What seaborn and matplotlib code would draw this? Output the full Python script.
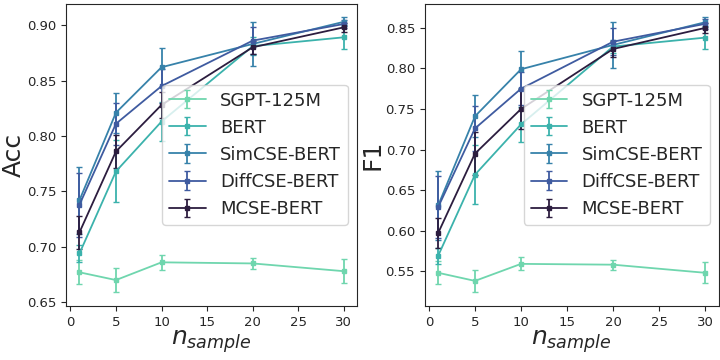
import matplotlib
matplotlib.use("Agg")
import numpy as np
import seaborn as sns
from matplotlib import pyplot as plt

sns.set_style("ticks")
plt.rcParams['font.family'] = ['DejaVu Sans']

n_sample = [1, 5, 10, 20, 30]
models = ['SGPT-125M', 'BERT', 'SimCSE-BERT', 'DiffCSE-BERT', 'MCSE-BERT']

acc_mean = {
    'SGPT-125M':    [0.677, 0.670, 0.686, 0.685, 0.678],
    'BERT':         [0.694, 0.768, 0.813, 0.881, 0.889],
    'SimCSE-BERT':  [0.742, 0.821, 0.862, 0.883, 0.903],
    'DiffCSE-BERT': [0.738, 0.811, 0.845, 0.886, 0.901],
    'MCSE-BERT':    [0.713, 0.786, 0.828, 0.880, 0.898],
}
acc_err = {
    'SGPT-125M':    [0.011, 0.011, 0.007, 0.005, 0.011],
    'BERT':         [0.008, 0.028, 0.018, 0.008, 0.011],
    'SimCSE-BERT':  [0.030, 0.018, 0.017, 0.020, 0.004],
    'DiffCSE-BERT': [0.029, 0.019, 0.015, 0.012, 0.004],
    'MCSE-BERT':    [0.015, 0.015, 0.012, 0.006, 0.004],
}
f1_mean = {
    'SGPT-125M':    [0.548, 0.538, 0.559, 0.558, 0.548],
    'BERT':         [0.569, 0.669, 0.731, 0.827, 0.838],
    'SimCSE-BERT':  [0.631, 0.741, 0.799, 0.829, 0.857],
    'DiffCSE-BERT': [0.629, 0.726, 0.775, 0.833, 0.855],
    'MCSE-BERT':    [0.597, 0.695, 0.750, 0.824, 0.850],
}
f1_err = {
    'SGPT-125M':    [0.014, 0.014, 0.008, 0.006, 0.013],
    'BERT':         [0.010, 0.036, 0.022, 0.008, 0.014],
    'SimCSE-BERT':  [0.043, 0.026, 0.023, 0.028, 0.006],
    'DiffCSE-BERT': [0.038, 0.028, 0.020, 0.017, 0.006],
    'MCSE-BERT':    [0.018, 0.027, 0.025, 0.010, 0.006],
}

colors = ['#6fd6ae', '#3bb2ac', '#3782aa', '#3f5ba0', '#2c1d3f']

fig = plt.figure(figsize=(7.2, 3.6), dpi=100)
ax1 = fig.add_axes([0.092, 0.15, 0.404, 0.84])
ax2 = fig.add_axes([0.590, 0.15, 0.408, 0.84])

for ax, means, errs, ylab in [(ax1, acc_mean, acc_err, 'Acc'), (ax2, f1_mean, f1_err, 'F1')]:
    for m, c in zip(models, colors):
        ax.errorbar(n_sample, means[m], yerr=errs[m], color=c, marker='s',
                    markersize=3, capsize=2.5, linewidth=1.3, label=m)
    ax.set_xticks([0, 5, 10, 15, 20, 25, 30])
    ax.set_xlabel('$n_{sample}$', fontsize=18, labelpad=0)
    ax.set_ylabel(ylab, fontsize=18, labelpad=1)
    ax.tick_params(axis='both', labelsize=9.5)
    ax.legend(loc='center right', fontsize=13, handlelength=2.0)

fig.savefig('out.png', dpi=100)
